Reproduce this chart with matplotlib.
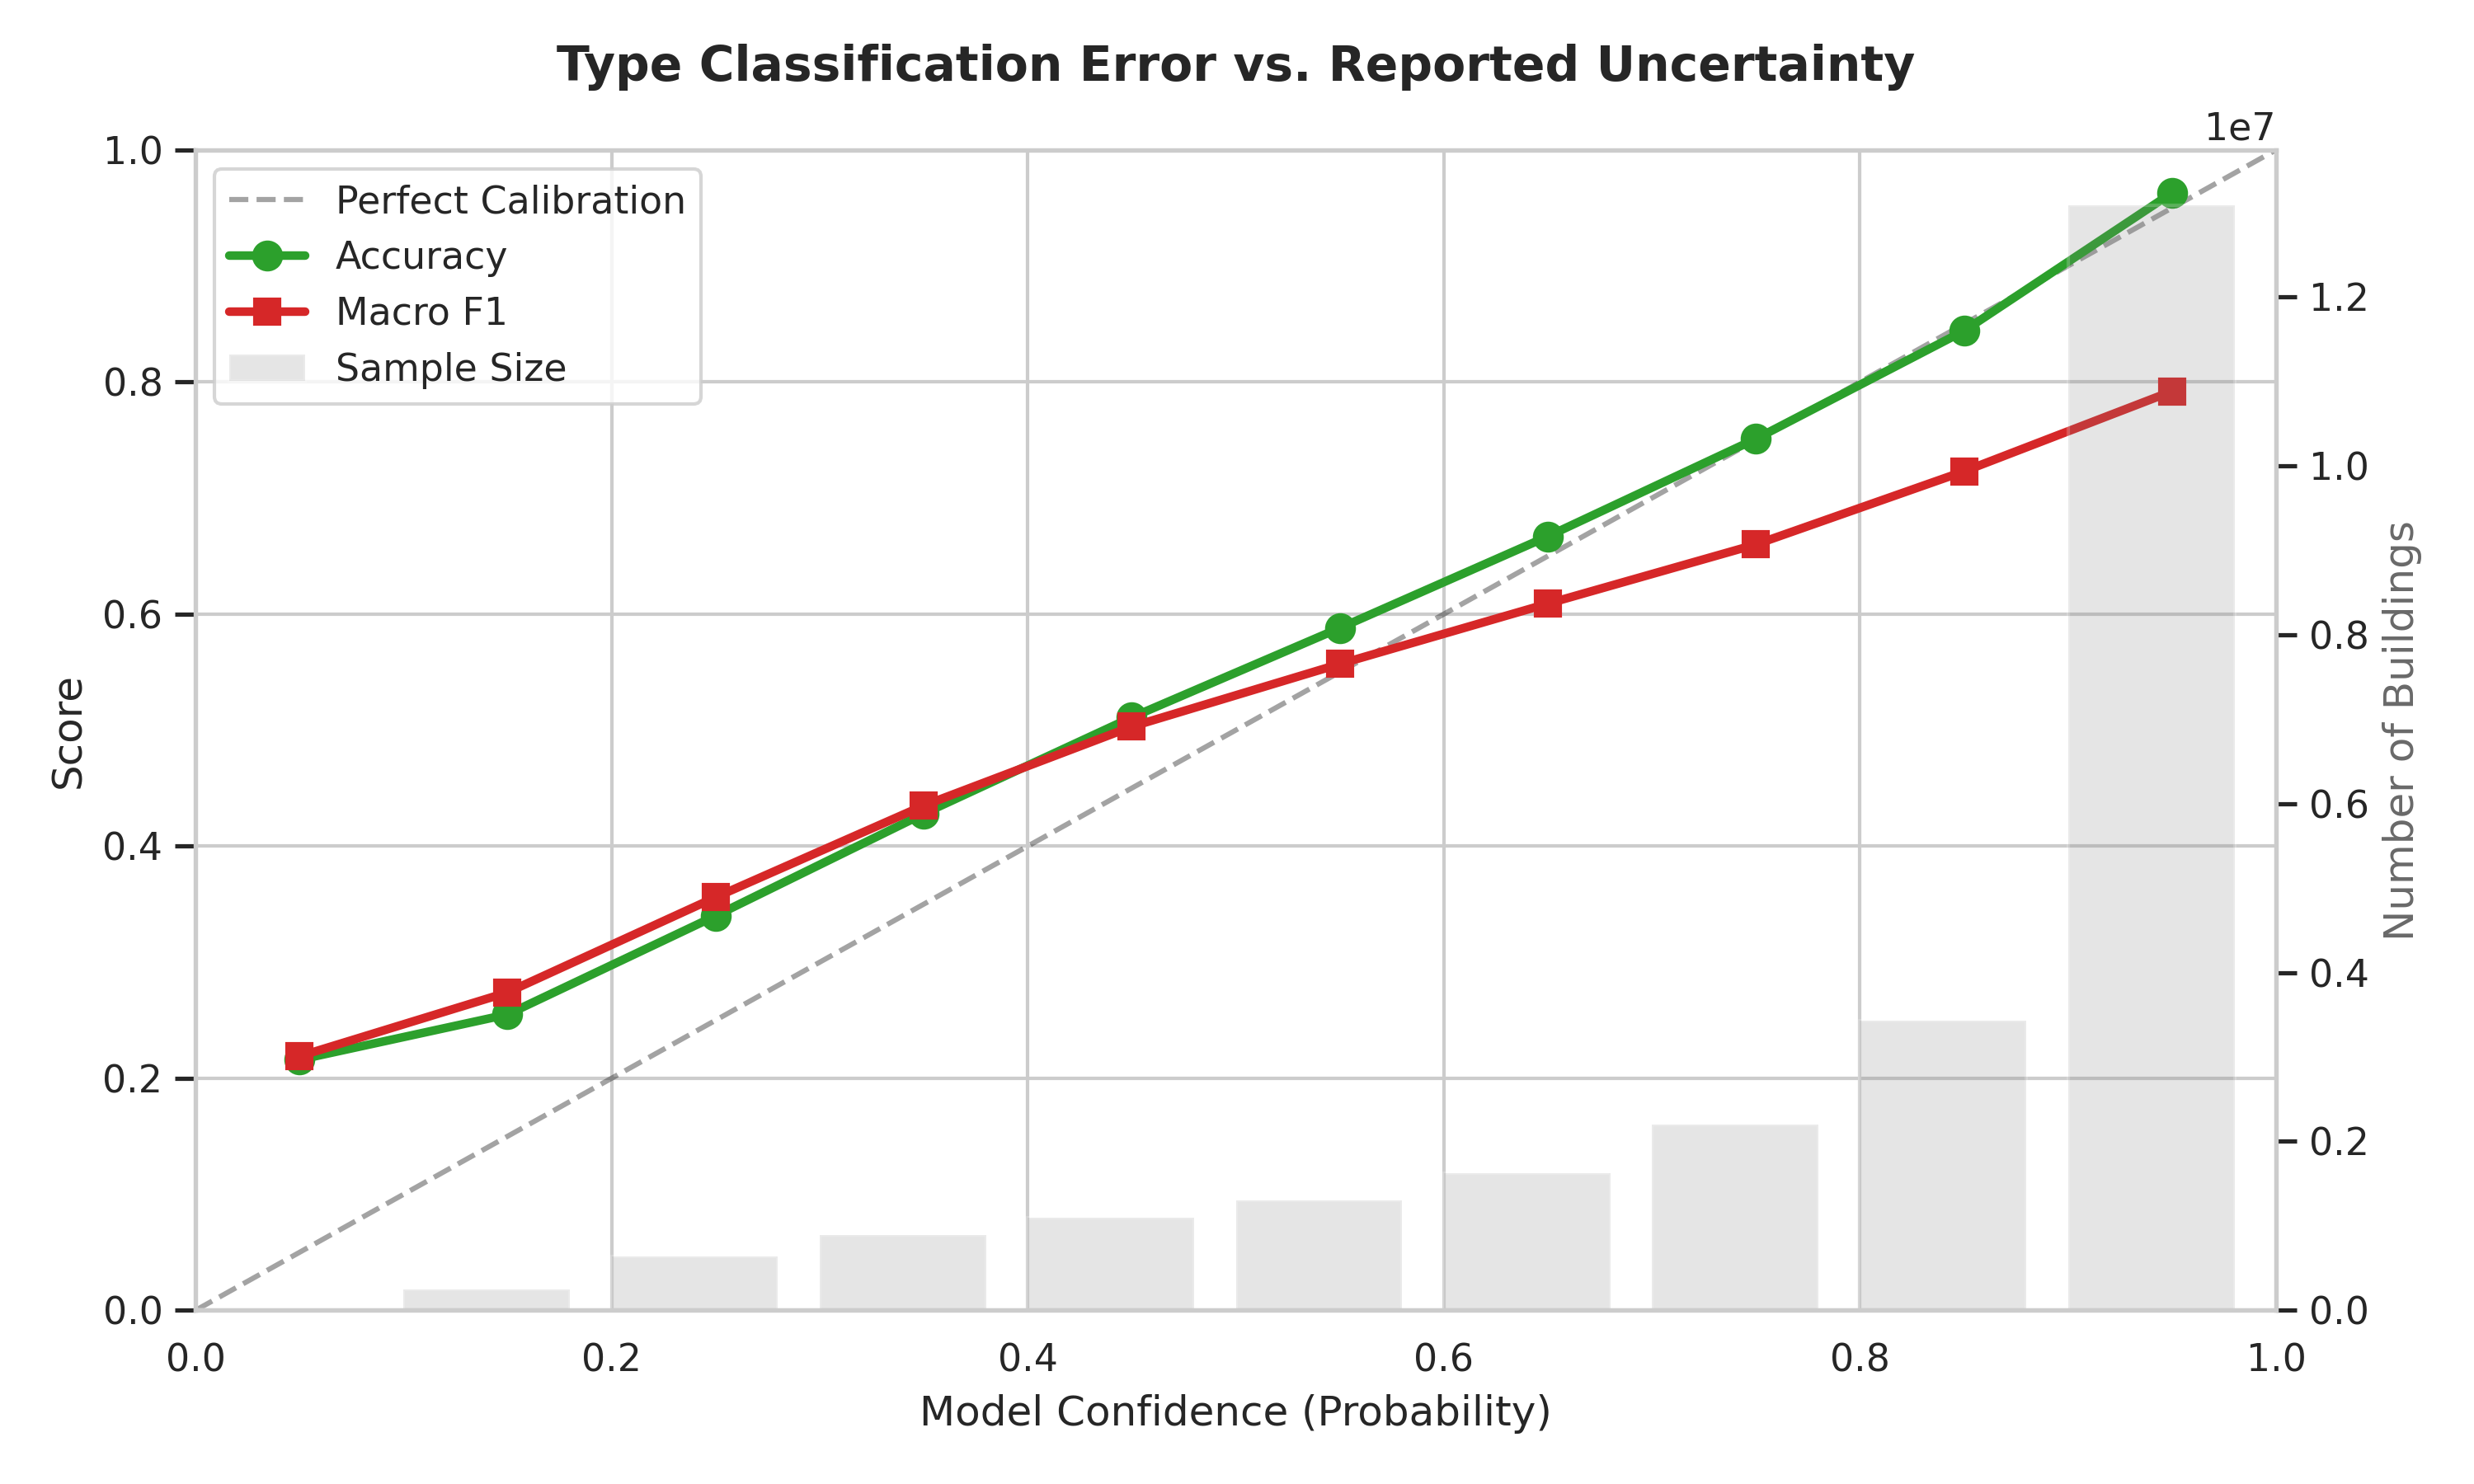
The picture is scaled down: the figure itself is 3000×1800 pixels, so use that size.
import matplotlib
matplotlib.use("Agg")
import matplotlib.pyplot as plt
import seaborn as sns
import numpy as np

sns.set_theme(style="whitegrid")
plt.rcParams['font.family'] = ['DejaVu Sans']

bin_left = [0.0, 0.1, 0.2, 0.3, 0.4, 0.5, 0.6, 0.7, 0.8, 0.9]
bin_center = [0.05, 0.15, 0.25, 0.35, 0.45, 0.55, 0.65, 0.75, 0.85, 0.95]
accuracy = [0.216, 0.255, 0.340, 0.428, 0.511, 0.588, 0.667, 0.751, 0.844, 0.963]
macro_f1 = [0.219, 0.274, 0.356, 0.435, 0.503, 0.557, 0.609, 0.660, 0.723, 0.792]
sample_size = [15000, 243000, 635000, 896000, 1100000, 1306000, 1624000, 2202000, 3434000, 13082000]

fig, ax1 = plt.subplots(figsize=(10, 6), dpi=300)
ax2 = ax1.twinx()

ax1.plot([0, 1], [0, 1], 'k--', alpha=0.4, label='Perfect Calibration')
ax1.plot(bin_center, accuracy, marker='o', color='#2ca02c', linewidth=2.5, markersize=8, label='Accuracy')
ax1.plot(bin_center, macro_f1, marker='s', color='#d62728', linewidth=2.5, markersize=7, label='Macro F1')

ax2.bar(bin_left, sample_size, width=0.08, align='edge', color='gray', alpha=0.2, label='Sample Size')
ax2.grid(False)
ax2.set_ylim(0, max(sample_size) * 1.05)
ax2.set_ylabel('Number of Buildings', color='dimgray')

ax1.set_xlim(0, 1)
ax1.set_ylim(0, 1)
ax1.set_xlabel('Model Confidence (Probability)')
ax1.set_ylabel('Score')
ax1.set_title('Type Classification Error vs. Reported Uncertainty', fontsize=14, fontweight='bold', pad=20)

h1, l1 = ax1.get_legend_handles_labels()
h2, l2 = ax2.get_legend_handles_labels()
ax1.legend(h1 + h2, l1 + l2, loc='upper left')

fig.subplots_adjust(left=0.079, right=0.92, top=0.899, bottom=0.117)
fig.savefig('out.png', dpi=300)
